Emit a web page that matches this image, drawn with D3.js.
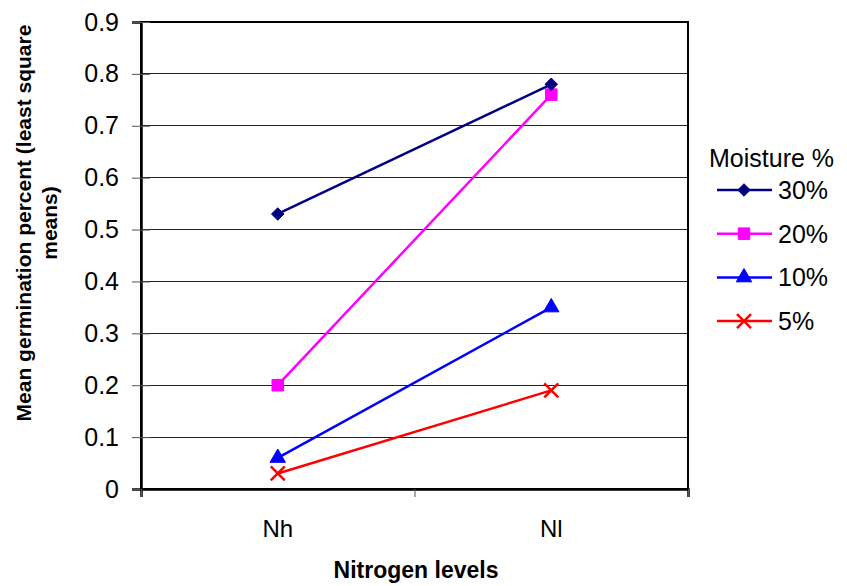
<!DOCTYPE html>
<html>
<head>
<meta charset="utf-8">
<script src="https://cdn.jsdelivr.net/npm/d3@7"></script>
<style>
  body { margin: 0; background: #fff; }
  text { font-family: Arial, "Liberation Sans", sans-serif; }
</style>
</head>
<body>
<div id="chart"></div>
<script>
// dados
const niveis = ["Nh", "Nl"];
const series = ["30%", "20%", "10%", "5%"];
const valores30 = [0.53, 0.78];
const valores20 = [0.20, 0.76];
const valores10 = [0.06, 0.35];
const valores5 = [0.03, 0.19];
const yTicks = [0, 0.1, 0.2, 0.3, 0.4, 0.5, 0.6, 0.7, 0.8, 0.9];

const cores = ["#000080", "#FF00FF", "#0000FF", "#FF0000"];
const simbolos = ["diamond", "square", "triangle", "cross"];
const dados = [valores30, valores20, valores10, valores5];

const width = 847, height = 586;
const margins = { top: 22, right: 159, bottom: 97, left: 141 };

const svg = d3.select("#chart").append("svg")
    .attr("width", width)
    .attr("height", height);

//Escalas
const xScale = d3.scaleBand()
    .domain(niveis)
    .range([margins.left, width - margins.right]);

const yScale = d3.scaleLinear()
    .domain([0, 0.9])
    .range([height - margins.bottom, margins.top]);

//Grade
svg.append("g")
    .selectAll("line")
    .data(yTicks.slice(1))
    .join("line")
    .attr("x1", margins.left)
    .attr("x2", width - margins.right)
    .attr("y1", d => yScale(d))
    .attr("y2", d => yScale(d))
    .attr("stroke", "#222")
    .attr("stroke-width", 1)
    .attr("shape-rendering", "crispEdges");

// borda da área
svg.append("rect")
    .attr("x", margins.left)
    .attr("y", margins.top)
    .attr("width", width - margins.left - margins.right)
    .attr("height", height - margins.top - margins.bottom)
    .attr("fill", "none")
    .attr("stroke", "#000")
    .attr("stroke-width", 2);

//Eixos
const eixoY = svg.append("g")
    .attr("transform", `translate(${margins.left}, 0)`)
    .call(d3.axisLeft(yScale).tickValues(yTicks).tickSize(9).tickPadding(13)
        .tickFormat(d => d === 0 ? "0" : d3.format(".1f")(d)));
eixoY.select(".domain").attr("stroke-width", 2.5);
// marcas cruzando o eixo
eixoY.selectAll(".tick line").attr("x1", 9).attr("stroke", "#555");
eixoY.selectAll("text").attr("font-size", 25).attr("fill", "#000")
    .attr("font-family", "Arial, 'Liberation Sans', sans-serif");

const xLinear = d3.scaleLinear().domain([0, 2]).range(xScale.range());
const eixoX = svg.append("g")
    .attr("transform", `translate(0, ${height - margins.bottom})`)
    .call(d3.axisBottom(xLinear).tickValues([0, 1, 2]).tickSize(8).tickFormat(""));
eixoX.select(".domain").attr("stroke-width", 2.5);
eixoX.selectAll(".tick line").attr("stroke", "#555");

svg.append("g")
    .selectAll("text")
    .data(niveis)
    .join("text")
    .attr("x", d => xScale(d) + xScale.bandwidth() / 2)
    .attr("y", 537)
    .attr("text-anchor", "middle")
    .attr("font-size", 24)
    .text(d => d);

// títulos
svg.append("text")
    .attr("x", 416)
    .attr("y", 578)
    .attr("text-anchor", "middle")
    .attr("font-size", 23)
    .attr("font-weight", "bold")
    .text("Nitrogen levels");

const tituloY = svg.append("text")
    .attr("transform", "translate(31, 223) rotate(-90)")
    .attr("text-anchor", "middle")
    .attr("font-size", 21)
    .attr("font-weight", "bold");
tituloY.append("tspan").attr("x", 0).attr("y", 0).text("Mean germination percent (least square");
tituloY.append("tspan").attr("x", 0).attr("y", 26).text("means)");

//Linhas e marcadores
const linha = d3.line()
    .x((d, i) => xScale(niveis[i]) + xScale.bandwidth() / 2)
    .y(d => yScale(d));

function desenhaSimbolo(g, tipo, cor, x, y) {
    if (tipo === "cross") {
        const s = 7;
        g.append("path")
            .attr("d", `M${x - s},${y - s}L${x + s},${y + s}M${x - s},${y + s}L${x + s},${y - s}`)
            .attr("stroke", cor)
            .attr("stroke-width", 2.5)
            .attr("fill", "none");
        return;
    }
    const tipos = { diamond: d3.symbolDiamond2, square: d3.symbolSquare2, triangle: d3.symbolTriangle2 };
    const tam = { diamond: 100, square: 170, triangle: 170 };
    g.append("path")
        .attr("d", d3.symbol(tipos[tipo], tam[tipo])())
        .attr("transform", `translate(${x}, ${y})`)
        .attr("fill", cor)
        .attr("stroke", cor)
        .attr("stroke-width", 1);
}

// desenha de trás pra frente para 30% ficar por cima
for (let k = dados.length - 1; k >= 0; k--) {
    const g = svg.append("g");
    g.append("path")
        .datum(dados[k])
        .attr("d", linha)
        .attr("fill", "none")
        .attr("stroke", cores[k])
        .attr("stroke-width", 2.5);
    dados[k].forEach((v, i) => {
        desenhaSimbolo(g, simbolos[k], cores[k], xScale(niveis[i]) + xScale.bandwidth() / 2, yScale(v));
    });
}

//Legenda
const legenda = svg.append("g");
legenda.append("text")
    .attr("x", 709)
    .attr("y", 167)
    .attr("font-size", 25)
    .text("Moisture %");

series.forEach((s, k) => {
    const y = 190 + k * 43.7;
    const g = legenda.append("g");
    g.append("line")
        .attr("x1", 717).attr("x2", 772)
        .attr("y1", y).attr("y2", y)
        .attr("stroke", cores[k])
        .attr("stroke-width", 2.5);
    desenhaSimbolo(g, simbolos[k], cores[k], 744, y);
    g.append("text")
        .attr("x", 778)
        .attr("y", y + 9)
        .attr("font-size", 25)
        .text(s);
});
</script>
</body>
</html>
